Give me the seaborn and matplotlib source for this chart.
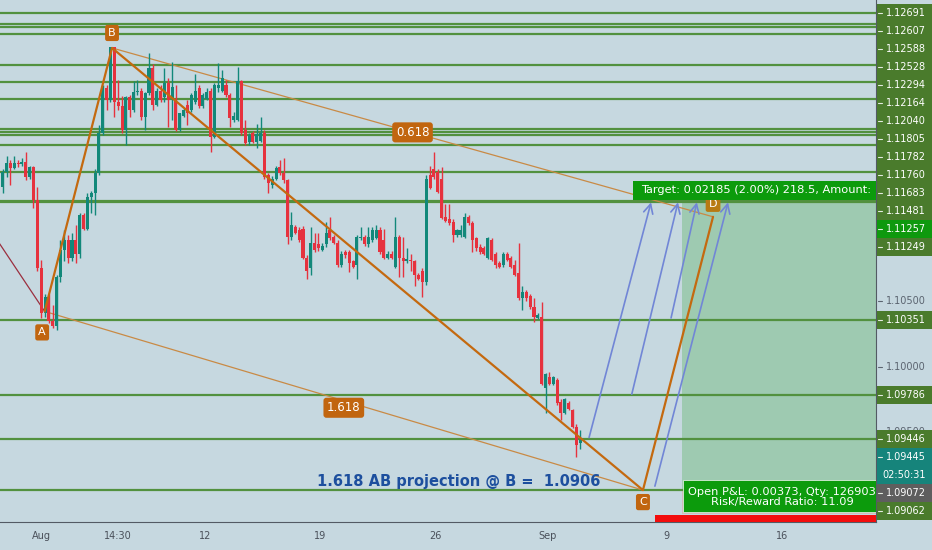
import numpy as np
import matplotlib
matplotlib.use("Agg")
import matplotlib.pyplot as plt
import seaborn as sns
from matplotlib.patches import Rectangle

# ---------------- data (EURUSD 4H candles) ----------------
opens = [1.1137, 1.1148, 1.1155, 1.1151, 1.1155, 1.1154, 1.1156, 1.1144, 1.1152, 1.1127,
         1.1075, 1.1041, 1.1053, 1.1035, 1.1031, 1.1068, 1.1089, 1.1096, 1.1083, 1.1096,
         1.1086, 1.1115, 1.1105, 1.1129, 1.1132, 1.1147, 1.1178, 1.1212, 1.1203, 1.1243,
         1.1201, 1.1198, 1.1180, 1.1205, 1.1195, 1.1209, 1.1210, 1.1190, 1.1208, 1.1227,
         1.1199, 1.1210, 1.1205, 1.1216, 1.1204, 1.1204, 1.1180, 1.1191, 1.1199, 1.1195,
         1.1201, 1.1212, 1.1198, 1.1204, 1.1210, 1.1175, 1.1212, 1.1210, 1.1214, 1.1207,
         1.1188, 1.1188, 1.1217, 1.1180, 1.1171, 1.1178, 1.1171, 1.1172, 1.1178, 1.1146,
         1.1138, 1.1143, 1.1152, 1.1147, 1.1142, 1.1099, 1.1106, 1.1104, 1.1105, 1.1083,
         1.1075, 1.1094, 1.1093, 1.1089, 1.1093, 1.1104, 1.1099, 1.1094, 1.1077, 1.1087,
         1.1087, 1.1080, 1.1077, 1.1098, 1.1099, 1.1093, 1.1096, 1.1098, 1.1104, 1.1096,
         1.1083, 1.1086, 1.1076, 1.1099, 1.1083, 1.1080, 1.1081, 1.1080, 1.1070, 1.1073,
         1.1064, 1.1146, 1.1150, 1.1148, 1.1143, 1.1114, 1.1112, 1.1110, 1.1100, 1.1100,
         1.1099, 1.1114, 1.1109, 1.1098, 1.1091, 1.1090, 1.1083, 1.1096, 1.1086, 1.1079,
         1.1077, 1.1086, 1.1083, 1.1077, 1.1071, 1.1052, 1.1057, 1.1054, 1.1045, 1.1037,
         1.1038, 1.0984, 1.0992, 1.0987, 1.0990, 1.0973, 1.0965, 1.0972, 1.0967, 1.0954,
         1.0942]
highs = [1.1150, 1.1160, 1.1157, 1.1160, 1.1157, 1.1159, 1.1163, 1.1153, 1.1153, 1.1137,
         1.1081, 1.1055, 1.1055, 1.1047, 1.1070, 1.1096, 1.1104, 1.1100, 1.1102, 1.1108,
         1.1117, 1.1117, 1.1132, 1.1134, 1.1150, 1.1184, 1.1214, 1.1214, 1.1243, 1.1243,
         1.1218, 1.1206, 1.1206, 1.1207, 1.1217, 1.1218, 1.1212, 1.1209, 1.1239, 1.1230,
         1.1212, 1.1214, 1.1227, 1.1220, 1.1232, 1.1214, 1.1193, 1.1197, 1.1203, 1.1208,
         1.1223, 1.1214, 1.1208, 1.1212, 1.1212, 1.1216, 1.1231, 1.1226, 1.1218, 1.1208,
         1.1194, 1.1228, 1.1218, 1.1188, 1.1178, 1.1179, 1.1185, 1.1190, 1.1180, 1.1147,
         1.1145, 1.1153, 1.1157, 1.1159, 1.1143, 1.1118, 1.1108, 1.1106, 1.1107, 1.1085,
         1.1106, 1.1102, 1.1102, 1.1094, 1.1110, 1.1114, 1.1100, 1.1096, 1.1088, 1.1089,
         1.1089, 1.1081, 1.1100, 1.1106, 1.1100, 1.1106, 1.1106, 1.1108, 1.1106, 1.1105,
         1.1088, 1.1088, 1.1114, 1.1100, 1.1099, 1.1090, 1.1086, 1.1081, 1.1071, 1.1075,
         1.1146, 1.1153, 1.1163, 1.1150, 1.1152, 1.1124, 1.1124, 1.1112, 1.1105, 1.1108,
         1.1117, 1.1115, 1.1111, 1.1099, 1.1093, 1.1092, 1.1099, 1.1098, 1.1087, 1.1080,
         1.1087, 1.1087, 1.1084, 1.1081, 1.1094, 1.1061, 1.1058, 1.1055, 1.1052, 1.1041,
         1.1049, 1.0995, 1.0996, 1.0993, 1.0991, 1.0975, 1.0976, 1.0974, 1.0968, 1.0956,
         1.0952]
lows = [1.1132, 1.1144, 1.1138, 1.1150, 1.1152, 1.1153, 1.1142, 1.1143, 1.1121, 1.1073,
        1.1037, 1.1038, 1.1033, 1.1029, 1.1028, 1.1064, 1.1080, 1.1079, 1.1080, 1.1079,
        1.1083, 1.1104, 1.1104, 1.1117, 1.1115, 1.1146, 1.1176, 1.1195, 1.1201, 1.1190,
        1.1195, 1.1178, 1.1169, 1.1190, 1.1194, 1.1207, 1.1188, 1.1180, 1.1207, 1.1195,
        1.1198, 1.1201, 1.1201, 1.1182, 1.1188, 1.1179, 1.1179, 1.1190, 1.1184, 1.1194,
        1.1200, 1.1197, 1.1197, 1.1203, 1.1163, 1.1174, 1.1209, 1.1209, 1.1205, 1.1182,
        1.1186, 1.1187, 1.1176, 1.1169, 1.1169, 1.1170, 1.1166, 1.1171, 1.1143, 1.1132,
        1.1136, 1.1142, 1.1146, 1.1140, 1.1093, 1.1096, 1.1101, 1.1095, 1.1082, 1.1067,
        1.1070, 1.1087, 1.1088, 1.1088, 1.1091, 1.1096, 1.1093, 1.1076, 1.1076, 1.1083,
        1.1072, 1.1075, 1.1067, 1.1096, 1.1092, 1.1091, 1.1095, 1.1097, 1.1086, 1.1082,
        1.1082, 1.1082, 1.1075, 1.1068, 1.1068, 1.1079, 1.1073, 1.1061, 1.1066, 1.1053,
        1.1062, 1.1135, 1.1143, 1.1132, 1.1112, 1.1110, 1.1108, 1.1095, 1.1099, 1.1099,
        1.1098, 1.1108, 1.1087, 1.1088, 1.1086, 1.1085, 1.1082, 1.1080, 1.1075, 1.1075,
        1.1076, 1.1080, 1.1075, 1.1069, 1.1051, 1.1043, 1.1050, 1.1044, 1.1034, 1.1036,
        1.0986, 1.0965, 1.0986, 1.0986, 1.0971, 1.0959, 1.0964, 1.0967, 1.0953, 1.0931,
        1.0937]
closes = [1.1148, 1.1155, 1.1151, 1.1155, 1.1154, 1.1156, 1.1144, 1.1152, 1.1127, 1.1075,
          1.1041, 1.1053, 1.1035, 1.1031, 1.1068, 1.1089, 1.1096, 1.1083, 1.1096, 1.1086,
          1.1115, 1.1105, 1.1129, 1.1132, 1.1147, 1.1178, 1.1212, 1.1203, 1.1243, 1.1201,
          1.1198, 1.1180, 1.1205, 1.1195, 1.1209, 1.1210, 1.1190, 1.1208, 1.1227, 1.1199,
          1.1210, 1.1203, 1.1216, 1.1203, 1.1213, 1.1180, 1.1193, 1.1195, 1.1193, 1.1207,
          1.1210, 1.1198, 1.1207, 1.1209, 1.1175, 1.1214, 1.1214, 1.1220, 1.1207, 1.1189,
          1.1191, 1.1217, 1.1178, 1.1170, 1.1176, 1.1171, 1.1177, 1.1178, 1.1144, 1.1140,
          1.1143, 1.1151, 1.1147, 1.1142, 1.1099, 1.1108, 1.1102, 1.1096, 1.1083, 1.1073,
          1.1094, 1.1089, 1.1090, 1.1092, 1.1102, 1.1098, 1.1094, 1.1077, 1.1086, 1.1085,
          1.1079, 1.1076, 1.1099, 1.1099, 1.1093, 1.1099, 1.1104, 1.1104, 1.1087, 1.1083,
          1.1086, 1.1083, 1.1099, 1.1083, 1.1080, 1.1082, 1.1080, 1.1070, 1.1067, 1.1064,
          1.1143, 1.1136, 1.1144, 1.1133, 1.1113, 1.1111, 1.1109, 1.1100, 1.1104, 1.1104,
          1.1114, 1.1109, 1.1096, 1.1090, 1.1087, 1.1086, 1.1098, 1.1081, 1.1077, 1.1076,
          1.1086, 1.1081, 1.1076, 1.1070, 1.1052, 1.1057, 1.1052, 1.1045, 1.1038, 1.1039,
          1.0987, 1.0994, 1.0987, 1.0992, 1.0972, 1.0965, 1.0975, 1.0968, 1.0954, 1.0940,
          1.09445]

tick_pos = [10, 30, 52.5, 82.5, 112.5, 141.5, 172.5, 202.5]
tick_labels = ["Aug", "14:30", "12", "19", "26", "Sep", "9", "16"]

level_prices = [1.12691, 1.12607, 1.12588, 1.12528, 1.12294, 1.12164, 1.12040,
                1.11805, 1.11782, 1.11760, 1.11683, 1.11481, 1.11249,
                1.10351, 1.09786, 1.09446, 1.09062]
scale_ticks = [1.10500, 1.10000, 1.09500]

# ABCD pattern points (bar index, price)
pattern_names = ["A", "B", "C", "D"]
pattern_x = [10.9, 28.4, 166.3, 184.5]
pattern_y = [1.1042, 1.12425, 1.0906, 1.1114]
xa_line_x = [-5.0, 10.9]
xa_line_y = [1.1112, 1.1042]
ratio_labels = ["1.618", "0.618"]

# projection arrows
arrow_x0 = [152.3, 163.4, 173.6, 169.4]
arrow_y0 = [1.0946, 1.0979, 1.1037, 1.0909]
arrow_x1 = [168.4, 175.4, 180.3, 188.4]
arrow_y1 = [1.1125, 1.1125, 1.1125, 1.1125]

# long position tool
entry_price = 1.09072
target_price = 1.11257
stop_price = 1.08875
current_price = 1.09445
countdown = "02:50:31"
pos_start, pos_end = 176.4, 260.0
target_text = "Target: 0.02185 (2.00%) 218.5, Amount:"
pnl_text = "Open P&L: 0.00373, Qty: 126903\nRisk/Reward Ratio: 11.09"
stop_text = "Stop: 0.00197 (0.18%) 19.7, Amount:"
projection_text = "1.618 AB projection @ B =  1.0906"

# ---------------- style ----------------
BG = "#c6d8e0"
sns.set_theme(style="white", rc={"axes.facecolor": BG, "figure.facecolor": BG})
plt.rcParams["font.family"] = ["DejaVu Sans"]

UP, DN = "#12887a", "#e6323e"
LEVEL = "#52913f"
ORANGE = "#c4690f"
THIN_OR = "#c98a45"
BLUE = "#7186d6"
LBL_GREEN = "#4a7b2c"

W, H = 932, 550
AX_R, AX_B = 876.0, 521.5
fig = plt.figure(figsize=(W / 100, H / 100), dpi=100)
ax = fig.add_axes([0, 1 - AX_B / H, AX_R / W, AX_B / H])
XMIN, XMAX = -0.70, 226.83
YMIN, YMAX = 1.08821, 1.12790
ax.set_xlim(XMIN, XMAX)
ax.set_ylim(YMIN, YMAX)


def py(p):
    return (YMAX - p) / (YMAX - YMIN) * AX_B


def dxp(n):
    return n * (XMAX - XMIN) / AX_R


def dyp(n):
    return n * (YMAX - YMIN) / AX_B


def frect(x, y, w, h, **kw):
    r = Rectangle((x / W, 1 - (y + h) / H), w / W, h / H, transform=fig.transFigure, **kw)
    fig.add_artist(r)
    return r


def ftext(x, y, s, **kw):
    return fig.text(x / W, 1 - y / H, s, **kw)


# horizontal levels
ax.hlines(level_prices + [target_price], XMIN, XMAX, colors=LEVEL, lw=1.6, zorder=2)

# position zones
ax.add_patch(Rectangle((pos_start, entry_price), pos_end - pos_start, target_price - entry_price,
                       fc="#4caf50", alpha=0.32, ec="none", zorder=1.5))
ax.add_patch(Rectangle((pos_start, stop_price), pos_end - pos_start, entry_price - stop_price,
                       fc="#f44336", alpha=0.2, ec="none", zorder=1.5))

# candles
o = np.array(opens); c = np.array(closes); h = np.array(highs); l = np.array(lows)
x = np.arange(len(o))
cols = np.where(c >= o, UP, DN)
ax.vlines(x, l, h, colors=cols, lw=1.0, zorder=4)
ax.bar(x, np.maximum(np.abs(c - o), dyp(1)), bottom=np.minimum(o, c), width=0.8,
       color=cols, lw=0, zorder=4.5)

# pattern lines
ax.plot(xa_line_x, xa_line_y, color="#9b2f3f", lw=0.9, zorder=3)
ax.plot([pattern_x[0], pattern_x[2]], [pattern_y[0], pattern_y[2]], color=THIN_OR, lw=0.9, zorder=3)
ax.plot([pattern_x[1], pattern_x[3]], [pattern_y[1], pattern_y[3]], color=THIN_OR, lw=0.9, zorder=3)
sns.lineplot(x=pattern_x, y=pattern_y, sort=False, estimator=None, color=ORANGE,
             lw=1.6, ax=ax, zorder=5, legend=False)

offsets = {"A": (-2.5, -21), "B": (0, 15), "C": (0, -12), "D": (0, 13)}
for name, px_, py_ in zip(pattern_names, pattern_x, pattern_y):
    fc = "#b87a12" if name == "D" else "#c1650f"
    ax.annotate(name, xy=(px_, py_), xytext=offsets[name], textcoords="offset pixels",
                ha="center", va="center", fontsize=8, color="white",
                bbox=dict(boxstyle="round,pad=0.28,rounding_size=0.2", fc=fc, ec="none"),
                zorder=7)

# ratio labels at mid-points
mid_ac = ((pattern_x[0] + pattern_x[2]) / 2, (pattern_y[0] + pattern_y[2]) / 2)
mid_bd = ((pattern_x[1] + pattern_x[3]) / 2, (pattern_y[1] + pattern_y[3]) / 2)
for txt, (mx, my), off in [(ratio_labels[0], mid_ac, -7), (ratio_labels[1], mid_bd, 0)]:
    ax.annotate(txt, xy=(mx, my), xytext=(0, off), textcoords="offset pixels",
                ha="center", va="center", fontsize=8.5, color="white",
                bbox=dict(boxstyle="round,pad=0.3,rounding_size=0.25", fc="#c1650f", ec="none"),
                zorder=7)

# arrows
for a0, b0, a1, b1 in zip(arrow_x0, arrow_y0, arrow_x1, arrow_y1):
    ax.annotate("", xy=(a1, b1), xytext=(a0, b0),
                arrowprops=dict(arrowstyle="->,head_length=0.55,head_width=0.28", color=BLUE,
                                lw=1.2, shrinkA=0, shrinkB=0), zorder=6)

# target label
ax.add_patch(Rectangle((pos_start - dxp(49), target_price + dyp(1.5)), dxp(400), dyp(19),
                       fc="#0c9b0c", ec="none", zorder=8))
ax.text(pos_start - dxp(41), target_price + dyp(11), target_text, ha="left", va="center",
        fontsize=8.2, color="white", zorder=9, clip_on=True)

# open P&L label
ax.add_patch(Rectangle((pos_start + dxp(1), entry_price - dyp(23.5)), dxp(400), dyp(32),
                       fc="#0c9b0c", ec="#d8eed8", lw=0.6, zorder=8))
ax.text(pos_start + dxp(100.5), entry_price - dyp(8.5), pnl_text, ha="center", va="center",
        fontsize=8.2, color="white", zorder=9, clip_on=True, linespacing=1.05)

# stop label (mostly cut by the time axis)
ax.add_patch(Rectangle((pos_start - dxp(27), stop_price - dyp(30)), dxp(400), dyp(29),
                       fc="#f20d0d", ec="none", zorder=8))
ax.text(pos_start - dxp(20), stop_price - dyp(13), stop_text, ha="left", va="center",
        fontsize=8.2, color="white", zorder=9, clip_on=True)

# projection note
ax.text(459 / AX_R, 1 - 481 / AX_B, projection_text, transform=ax.transAxes,
        ha="center", va="center", fontsize=10.5, fontweight="bold", color="#1d4f9e", zorder=9)

# axes styling
ax.set_yticks([])
ax.set_xticks(tick_pos)
ax.set_xticklabels(tick_labels, fontsize=7, color="#4a505a")
ax.tick_params(axis="x", length=0, pad=7)
for s in ["top", "left"]:
    ax.spines[s].set_visible(False)
for s in ["right", "bottom"]:
    ax.spines[s].set_color("#535a64")
    ax.spines[s].set_linewidth(0.8)

# price scale: boxed labels with overlap avoidance
boxed = [(p, [f"{p:.5f}"], LBL_GREEN) for p in level_prices]
boxed.append((target_price, [f"{target_price:.5f}"], "#0e990e"))
boxed.append((current_price, [f"{current_price:.5f}", countdown], "#16847b"))
boxed.append((entry_price, [f"{entry_price:.5f}"], "#5e5e5e"))
boxed.sort(key=lambda t: -t[0])
LH = 18.0
prev_bottom = -1e9
box_tops = []
for p, lines, col in boxed:
    hh = LH * len(lines)
    top = max(py(p) - LH / 2, prev_bottom)
    box_tops.append((top, top + hh))
    frect(877, top, 60, hh, fc=col, ec="none", zorder=3)
    for k, s in enumerate(lines):
        yc = top + LH / 2 + k * LH
        if k == 0:
            fig.add_artist(plt.Line2D([877.5 / W, 881.5 / W], [1 - yc / H] * 2,
                                      transform=fig.transFigure, color="#e4ebe0", lw=0.8, zorder=4))
            ftext(886, yc, s, ha="left", va="center", fontsize=7, color="white", zorder=4)
        else:
            ftext(904, yc, s, ha="center", va="center", fontsize=7, color="white", zorder=4)
    prev_bottom = top + hh

# price scale: plain ticks, hidden where a box covers them
for p in scale_ticks:
    yy = py(p)
    covered = any(t0 - 4 < yy < t1 + 4 for t0, t1 in box_tops)
    if covered:
        # only the sliver above the covering box shows
        cover_top = min(t0 for t0, t1 in box_tops if t0 - 4 < yy < t1 + 4)
        t = ftext(886, yy, f"{p:.5f}", ha="left", va="center", fontsize=7, color="#5b6470",
                  zorder=2)
        clip = Rectangle((877 / W, 1 - cover_top / H), 55 / W, 6 / H, transform=fig.transFigure)
        t.set_clip_path(clip)
        continue
    fig.add_artist(plt.Line2D([877.5 / W, 881.5 / W], [1 - yy / H] * 2,
                              transform=fig.transFigure, color="#5b6470", lw=0.8, zorder=2))
    ftext(886, yy, f"{p:.5f}", ha="left", va="center", fontsize=7, color="#5b6470", zorder=2)

fig.savefig("out.png", dpi=100, facecolor=BG)
